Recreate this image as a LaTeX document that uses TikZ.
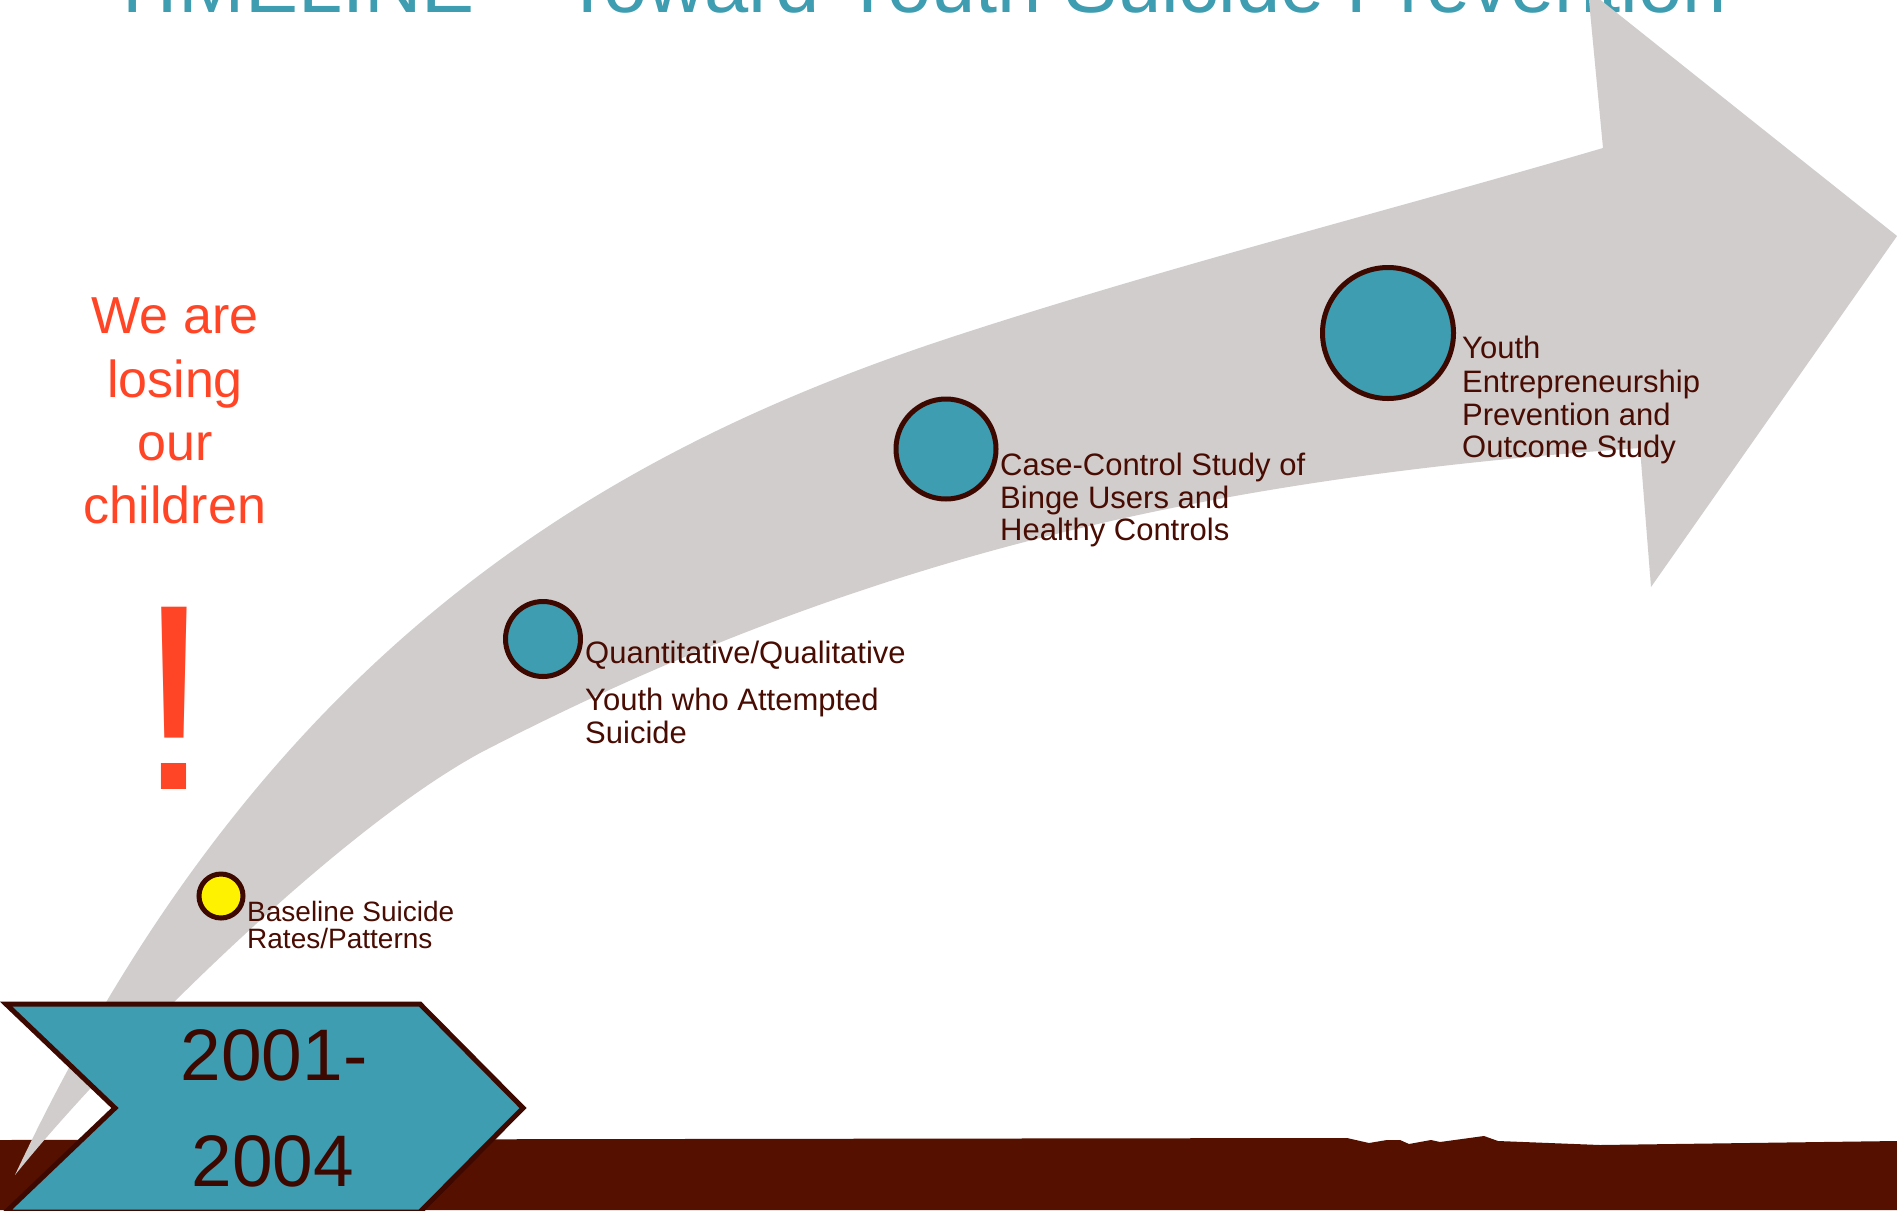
\documentclass[tikz,border=0pt]{standalone}
\usepackage{fontspec}
\setmainfont{Liberation Sans}
\definecolor{tealc}{RGB}{62,157,176}
\definecolor{arrowgray}{RGB}{208,205,204}
\definecolor{groundc}{RGB}{86,16,0}
\definecolor{rimc}{RGB}{60,8,0}
\definecolor{labelc}{RGB}{72,12,2}
\definecolor{alertc}{RGB}{255,69,38}
\tikzset{
  dot/.style={circle, draw=rimc, line width=5pt, fill=tealc, inner sep=0pt},
  lbl/.style={anchor=base west, inner sep=0pt, text=labelc, font=\fontsize{31}{33}\selectfont},
  lblsmall/.style={anchor=base west, inner sep=0pt, text=labelc, font=\fontsize{28}{30}\selectfont},
  alert/.style={anchor=base, inner sep=0pt, text=alertc, font=\fontsize{52}{60}\selectfont},
  year/.style={anchor=base, inner sep=0pt, text=rimc, font=\fontsize{73}{80}\selectfont},
}
\begin{document}
\begin{tikzpicture}[x=1pt,y=-1pt]
\useasboundingbox (0,0) rectangle (1897,1210);
\clip (0,0) rectangle (1897,1210);
\fill[white] (0,0) rectangle (1897,1210);
% title (cut off at top)
\node[anchor=base west, inner sep=0pt, text=tealc, font=\fontsize{79.5}{90}\selectfont] (title) at (108,12) {TIMELINE – Toward Youth Suicide Prevention};
% ground
\fill[groundc] (0,1140) -- (1347,1138) -- (1369,1143) -- (1387,1140) -- (1400,1140) -- (1409,1144) -- (1431,1140) -- (1440,1142) -- (1484,1136) -- (1498,1141) -- (1600,1145) -- (1897,1141) -- (1897,1210) -- (0,1210) -- cycle;
% big curved arrow
\fill[arrowgray] (15,1175) .. controls (259,655) and (596,455) .. (946,339)
  .. controls (1165,267) and (1385,212) .. (1603,148)
  -- (1588,-10) -- (1897,236) -- (1651,587) -- (1640,448)
  .. controls (1240,476) and (880,545) .. (480,753)
  .. controls (330,835) and (105,1063) .. (15,1175) -- cycle;
% chevron
\draw[fill=tealc, draw=rimc, line width=5pt, line join=miter] (6,1004) -- (420,1004) -- (523,1108) -- (420,1212) -- (6,1212) -- (115,1108) -- cycle;
\node[year] (y1) at (274,1080) {2001-};
\node[year] (y2) at (273,1186) {2004};
% alert text
\node[alert] (a1) at (175,333) {We are};
\node[alert] (a2) at (175,397) {losing};
\node[alert] (a3) at (175,460) {our};
\node[alert] (a4) at (175,523) {children};
\node[anchor=base, inner sep=0pt, text=alertc, font=\fontsize{265}{270}\selectfont] (bang) at (174,789) {!};
% milestones
\node[dot, fill=yellow, minimum size=44pt] (c1) at (221,896) {};
\node[dot, minimum size=75pt] (c2) at (543,639) {};
\node[dot, minimum size=100pt] (c3) at (946,449) {};
\node[dot, minimum size=131pt] (c4) at (1388,333) {};
% labels
\node[lblsmall] (t1a) at (247,921) {Baseline Suicide};
\node[lblsmall] (t1b) at (247,948) {Rates/Patterns};
\node[lbl] (t2a) at (585,663) {Quantitative/Qualitative};
\node[lbl] (t2b) at (585,710) {Youth who Attempted};
\node[lbl] (t2c) at (585,743) {Suicide};
\node[lbl] (t3a) at (1000,475) {Case-Control Study of};
\node[lbl] (t3b) at (1000,508) {Binge Users and};
\node[lbl] (t3c) at (1000,540) {Healthy Controls};
\node[lbl] (t4a) at (1462,358) {Youth};
\node[lbl] (t4b) at (1462,392) {Entrepreneurship};
\node[lbl] (t4c) at (1462,425) {Prevention and};
\node[lbl] (t4d) at (1462,457) {Outcome Study};
\end{tikzpicture}
\end{document}
